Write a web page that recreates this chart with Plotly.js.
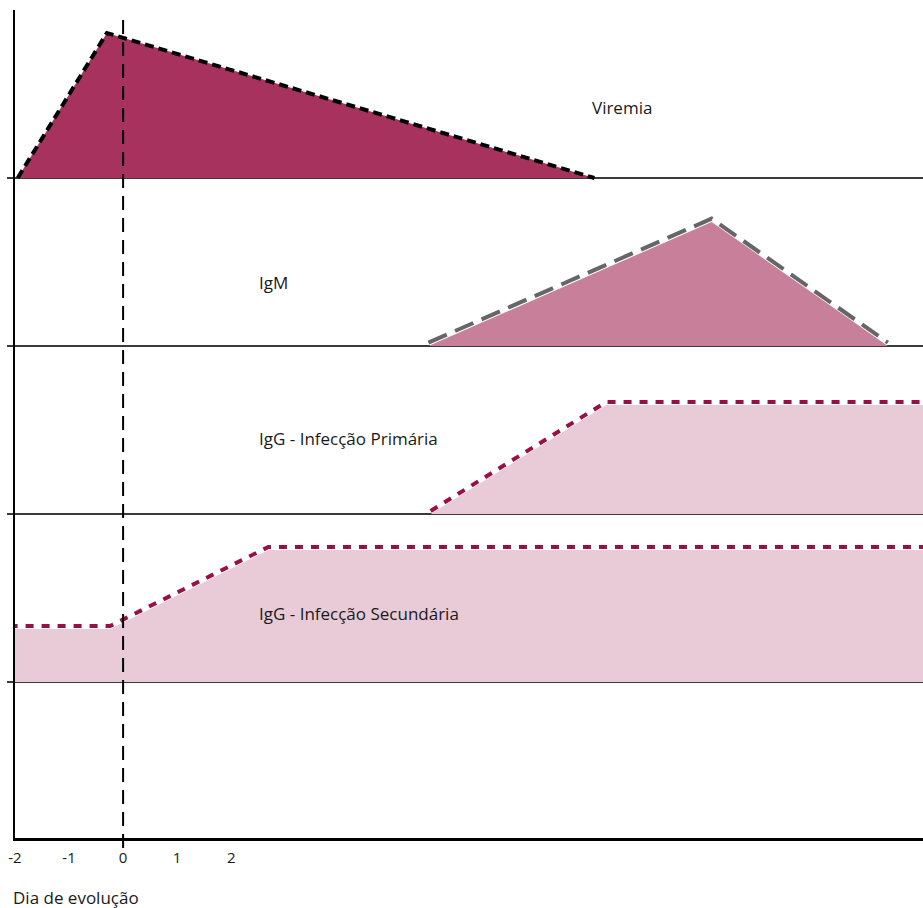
<!DOCTYPE html>
<html>
<head>
<meta charset="utf-8">
<script src="https://cdn.plot.ly/plotly-3.0.1.min.js"></script>
<style>html,body{margin:0;padding:0;background:#fff;}#chart{width:923px;height:908px;}</style>
</head>
<body>
<div id="chart"></div>
<script>
// Day of evolution (x) and relative level (y) for each band
var viremiaX = [-1.95, -0.3, 8.72];
var viremiaY = [3, 3.863, 3];
var viremiaBase = 3;

var igmX = [5.65, 10.89, 14.15];
var igmY = [2, 2.738, 2];
var igmBase = 2;

var iggPrimX = [5.69, 8.94, 15.5];
var iggPrimY = [1, 1.649, 1.649];
var iggPrimBase = 1;

var iggSecX = [-2.1, -0.24, 2.69, 15.5];
var iggSecY = [0.315, 0.315, 0.786, 0.786];
var iggSecBase = 0;

var tickVals = [-2, -1, 0, 1, 2];
var tickText = ['-2', '-1', '0', '1', '2'];
var bandLines = [0, 1, 2, 3];

var labels = ['Viremia', 'IgM', 'IgG - Infecção Primária', 'IgG - Infecção Secundária'];
var labelX = [8.63, 2.47, 2.47, 2.47];
var labelY = [3.42, 2.38, 1.452, 0.41];

function polygon(xs, ys, base) {
  var px = xs.slice(), py = ys.slice();
  px.push(xs[xs.length - 1]); py.push(base);
  px.push(xs[0]); py.push(base);
  return {x: px, y: py};
}
function shifted(ys, d) { return ys.map(function (v) { return v + d; }); }

var fills = [
  {xs: viremiaX, ys: viremiaY, base: viremiaBase, color: '#A8325E'},
  {xs: igmX, ys: igmY, base: igmBase, color: '#C87F99'},
  {xs: iggPrimX, ys: iggPrimY, base: iggPrimBase, color: '#E8CBD7'},
  {xs: iggSecX, ys: iggSecY, base: iggSecBase, color: '#E8CBD7'}
];
var traces = [];
fills.forEach(function (f) {
  var p = polygon(f.xs, f.ys, f.base);
  traces.push({x: p.x, y: p.y, type: 'scatter', mode: 'lines', fill: 'toself',
    fillcolor: f.color, line: {width: 0, color: f.color}, hoverinfo: 'skip', showlegend: false});
});
traces.push({x: viremiaX, y: viremiaY, type: 'scatter', mode: 'lines',
  line: {color: '#000', width: 4, dash: '9px,5px'}, showlegend: false});
traces.push({x: igmX, y: shifted(igmY, 0.02), type: 'scatter', mode: 'lines',
  line: {color: '#666', width: 4, dash: '20px,9px'}, showlegend: false});
traces.push({x: iggPrimX, y: shifted(iggPrimY, 0.018), type: 'scatter', mode: 'lines',
  line: {color: '#9A0F45', width: 4, dash: '8px,8px'}, showlegend: false});
traces.push({x: iggSecX, y: shifted(iggSecY, 0.018), type: 'scatter', mode: 'lines',
  line: {color: '#9A0F45', width: 4, dash: '8px,8px'}, showlegend: false});

var textFont = {family: 'Open Sans, sans-serif', size: 17, color: '#1a1a1a'};
var annotations = labels.map(function (t, i) {
  return {x: labelX[i], y: labelY[i], xref: 'x', yref: 'y', text: t, showarrow: false,
    xanchor: 'left', yanchor: 'middle', font: textFont};
});
annotations.push({x: -0.004, y: -0.0713, xref: 'paper', yref: 'paper', text: 'Dia de evolução',
  showarrow: false, xanchor: 'left', yanchor: 'middle', font: textFont});

var layout = {
  width: 923, height: 908,
  margin: {l: 15, r: 0, t: 10, b: 70, pad: 0},
  paper_bgcolor: '#fff', plot_bgcolor: '#fff',
  showlegend: false,
  xaxis: {range: [-2, 14.8], tickvals: tickVals, ticktext: tickText, showgrid: false, zeroline: false,
    showline: true, linecolor: '#000', linewidth: 3, ticks: '', ticklabelstandoff: 4,
    tickfont: {family: 'Open Sans, sans-serif', size: 15, color: '#1a1a1a'}, fixedrange: true},
  yaxis: {range: [-0.929, 4], tickvals: bandLines, showticklabels: false, showgrid: true,
    gridcolor: '#3a3a3a', gridwidth: 1.5, zeroline: false, showline: true, linecolor: '#000', linewidth: 2.5,
    ticks: 'outside', ticklen: 6, tickcolor: '#3a3a3a', tickwidth: 1.5, fixedrange: true},
  shapes: [{type: 'line', xref: 'x', yref: 'paper', x0: 0, x1: 0, y0: -0.012, y1: 0.995,
    line: {color: '#000', width: 2, dash: '14px,8px'}, layer: 'above'}],
  annotations: annotations
};
Plotly.newPlot('chart', traces, layout, {staticPlot: true, displayModeBar: false});
</script>
</body>
</html>
